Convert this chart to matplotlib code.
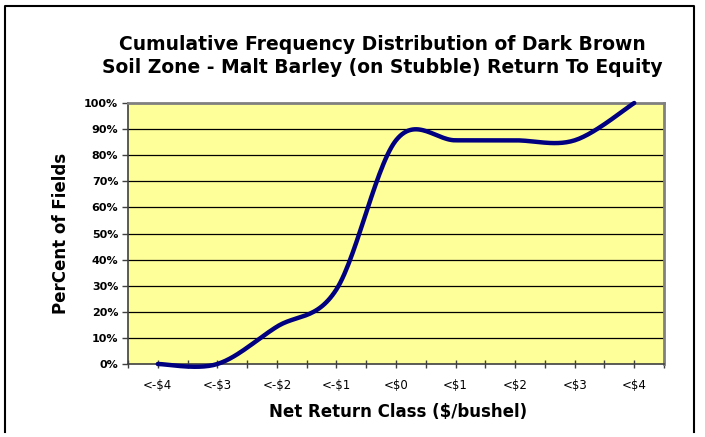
import numpy as np
import matplotlib
matplotlib.use("Agg")
import matplotlib.pyplot as plt
from matplotlib.lines import Line2D

categories = ["<-$4", "<-$3", "<-$2", "<-$1", "<$0", "<$1", "<$2", "<$3", "<$4"]
percent_fields = [0.0, 0.0, 14.3, 28.6, 85.7, 85.7, 85.7, 85.7, 100.0]
y_ticks = [0, 10, 20, 30, 40, 50, 60, 70, 80, 90, 100]
y_tick_labels = ["0%", "10%", "20%", "30%", "40%", "50%", "60%", "70%", "80%", "90%", "100%"]

title = "Cumulative Frequency Distribution of Dark Brown\nSoil Zone - Malt Barley (on Stubble) Return To Equity"
xlabel = "Net Return Class ($/bushel)"
ylabel = "PerCent of Fields"

plt.rcParams['font.family'] = ['DejaVu Sans']

W, H = 705, 437
fig = plt.figure(figsize=(W / 100, H / 100), dpi=100)
fig.patch.set_facecolor("white")

L, R, T, B = 128, 664, 103, 364
ax = fig.add_axes([L / W, 1 - B / H, (R - L) / W, (B - T) / H])
ax.set_facecolor("#FFFF99")


def smooth(xs, ys, n=30):
    xs = np.asarray(xs, float)
    ys = np.asarray(ys, float)
    px, py = [], []
    m = len(xs)
    for i in range(m - 1):
        i0 = max(i - 1, 0)
        i3 = min(i + 2, m - 1)
        p0 = np.array([xs[i], ys[i]])
        p3 = np.array([xs[i + 1], ys[i + 1]])
        c1 = p0 + (np.array([xs[i + 1], ys[i + 1]]) - np.array([xs[i0], ys[i0]])) / 6
        c2 = p3 - (np.array([xs[i3], ys[i3]]) - np.array([xs[i], ys[i]])) / 6
        t = np.linspace(0, 1, n)[:, None]
        pts = (1 - t) ** 3 * p0 + 3 * (1 - t) ** 2 * t * c1 + 3 * (1 - t) * t ** 2 * c2 + t ** 3 * p3
        if i > 0:
            pts = pts[1:]
        px.extend(pts[:, 0])
        py.extend(pts[:, 1])
    return np.array(px), np.array(py)


x = np.arange(len(categories))
sx, sy = smooth(x, percent_fields)

for yt in y_ticks[1:-1]:
    ax.axhline(yt, color="black", lw=0.9, zorder=1)

ax.plot(sx, sy, color="#000080", lw=3.2, solid_capstyle="round", zorder=3, clip_on=False)

ax.set_xlim(-0.5, len(categories) - 0.5)
ax.set_ylim(0, 100)
ax.set_xticks(x)
ax.set_xticklabels(categories, fontsize=8.5)
ax.set_xticks(np.arange(-0.5, len(categories), 1.0), minor=True)
ax.set_yticks(y_ticks)
ax.set_yticklabels(y_tick_labels, fontsize=8, fontweight="bold")

ax.tick_params(axis="x", which="both", direction="inout", length=6, width=1, color="#404040", pad=8)
ax.tick_params(axis="y", which="both", direction="out", length=4, width=1, color="#404040", pad=3)

for s in ["top", "right"]:
    ax.spines[s].set_color("#808080")
    ax.spines[s].set_linewidth(2)
for s in ["left", "bottom"]:
    ax.spines[s].set_color("#404040")
    ax.spines[s].set_linewidth(1.2)

fig.text(382 / W, 1 - 56 / H, title, ha="center", va="center", fontsize=13.5,
         fontweight="bold", linespacing=1.3)
fig.text(398 / W, 1 - 412 / H, xlabel, ha="center", va="center", fontsize=12, fontweight="bold")
fig.text(61 / W, 1 - 233 / H, ylabel, ha="center", va="center", fontsize=12,
         fontweight="bold", rotation=90)

# outer chart frame
fig.add_artist(Line2D([4.5 / W, 4.5 / W, 694 / W, 694 / W],
                      [1 - 432 / H, 1 - 6 / H, 1 - 6 / H, 1 - 432 / H],
                      transform=fig.transFigure, color="black", lw=1.5))

fig.savefig("out.png", dpi=100)
